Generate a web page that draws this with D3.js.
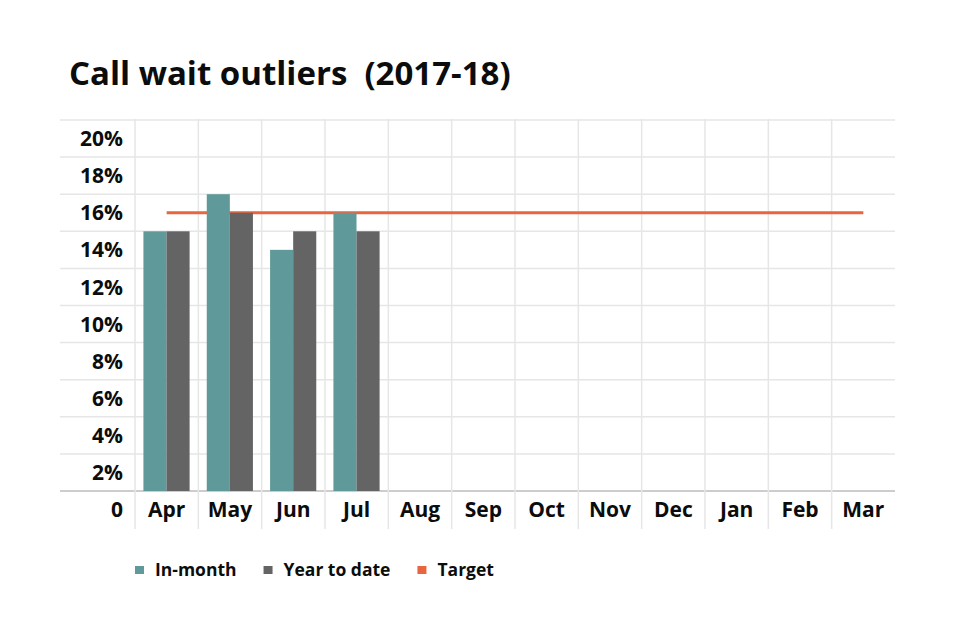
<!DOCTYPE html>
<html>
<head>
<meta charset="utf-8">
<script src="https://cdn.jsdelivr.net/npm/d3@7"></script>
<style>
  body { margin: 0; background: #fff; }
  text { font-family: "Open Sans", Lato, sans-serif; font-weight: 700; fill: #0b0c0c; }
</style>
</head>
<body>
<svg width="960" height="640"></svg>
<script>
// data
var months = ['Apr', 'May', 'Jun', 'Jul', 'Aug', 'Sep', 'Oct', 'Nov', 'Dec', 'Jan', 'Feb', 'Mar'];
var inMonth = [14, 16, 13, 15];
var yearToDate = [14, 15, 14, 14];
var target = 15;
var yTicks = [0, 2, 4, 6, 8, 10, 12, 14, 16, 18, 20];
var seriesNames = ['In-month', 'Year to date', 'Target'];
var seriesColors = ['#5f9999', '#646464', '#e8663d'];

var svg = d3.select('svg');

// plot area
var plotLeft = 135, plotRight = 895, plotTop = 120, plotBottom = 491;

var x = d3.scaleBand().domain(months).range([plotLeft, plotRight]);
var x1 = d3.scaleBand()
    .domain(['in', 'ytd'])
    .range([x.bandwidth() * 0.133, x.bandwidth() * 0.862]);
var y = d3.scaleLinear().domain([0, 20]).range([plotBottom, plotTop]);

// title
svg.append('text')
    .attr('x', 69)
    .attr('y', 85)
    .attr('font-size', 33)
    .style('white-space', 'pre')
    .text('Call wait outliers  (2017-18)');

// horizontal gridlines
svg.append('g').selectAll('line')
    .data(yTicks)
    .join('line')
    .attr('x1', 60)
    .attr('x2', plotRight)
    .attr('y1', d => y(d))
    .attr('y2', d => y(d))
    .attr('stroke', d => d === 0 ? '#bdbdbd' : '#e6e6e6')
    .attr('stroke-width', 1.5);

// vertical gridlines (band edges)
var edges = months.map(m => x(m));
svg.append('g').selectAll('line')
    .data(edges)
    .join('line')
    .attr('x1', d => d)
    .attr('x2', d => d)
    .attr('y1', plotTop - 1)
    .attr('y2', 529)
    .attr('stroke', '#e6e6e6')
    .attr('stroke-width', 1.5);

// y labels sit half a step below their gridline
svg.append('g').selectAll('text')
    .data(yTicks)
    .join('text')
    .attr('x', 123)
    .attr('y', d => y(d - 1))
    .attr('dy', '0.36em')
    .attr('text-anchor', 'end')
    .attr('font-size', 21)
    .text(d => d === 0 ? '0' : d + '%');

// month labels
svg.append('g').selectAll('text')
    .data(months)
    .join('text')
    .attr('x', d => x(d) + x.bandwidth() / 2)
    .attr('y', y(-1))
    .attr('dy', '0.36em')
    .attr('text-anchor', 'middle')
    .attr('font-size', 21)
    .text(d => d);

// target line (behind bars)
svg.append('line')
    .attr('x1', x(months[0]) + x.bandwidth() / 2)
    .attr('x2', x(months[months.length - 1]) + x.bandwidth() / 2)
    .attr('y1', y(target))
    .attr('y2', y(target))
    .attr('stroke', seriesColors[2])
    .attr('stroke-width', 3);

// bars
var bars = svg.append('g');
bars.selectAll('rect.in')
    .data(inMonth)
    .join('rect')
    .attr('class', 'in')
    .attr('x', (d, i) => x(months[i]) + x1('in'))
    .attr('y', d => y(d))
    .attr('width', x1.bandwidth())
    .attr('height', d => y(0) - y(d))
    .attr('fill', seriesColors[0]);
bars.selectAll('rect.ytd')
    .data(yearToDate)
    .join('rect')
    .attr('class', 'ytd')
    .attr('x', (d, i) => x(months[i]) + x1('ytd'))
    .attr('y', d => y(d))
    .attr('width', x1.bandwidth())
    .attr('height', d => y(0) - y(d))
    .attr('fill', seriesColors[1]);

// legend
var legend = svg.append('g').attr('transform', 'translate(135,570)');
var lx = 0;
seriesNames.forEach(function(name, i) {
    var g = legend.append('g').attr('transform', 'translate(' + lx + ',0)');
    g.append('rect')
        .attr('x', 0)
        .attr('y', -4)
        .attr('width', 9)
        .attr('height', 8)
        .attr('fill', seriesColors[i]);
    var t = g.append('text')
        .attr('x', 20)
        .attr('dy', '0.36em')
        .attr('font-size', 17.5)
        .text(name);
    lx += 20 + t.node().getComputedTextLength() + 27;
});
</script>
</body>
</html>
